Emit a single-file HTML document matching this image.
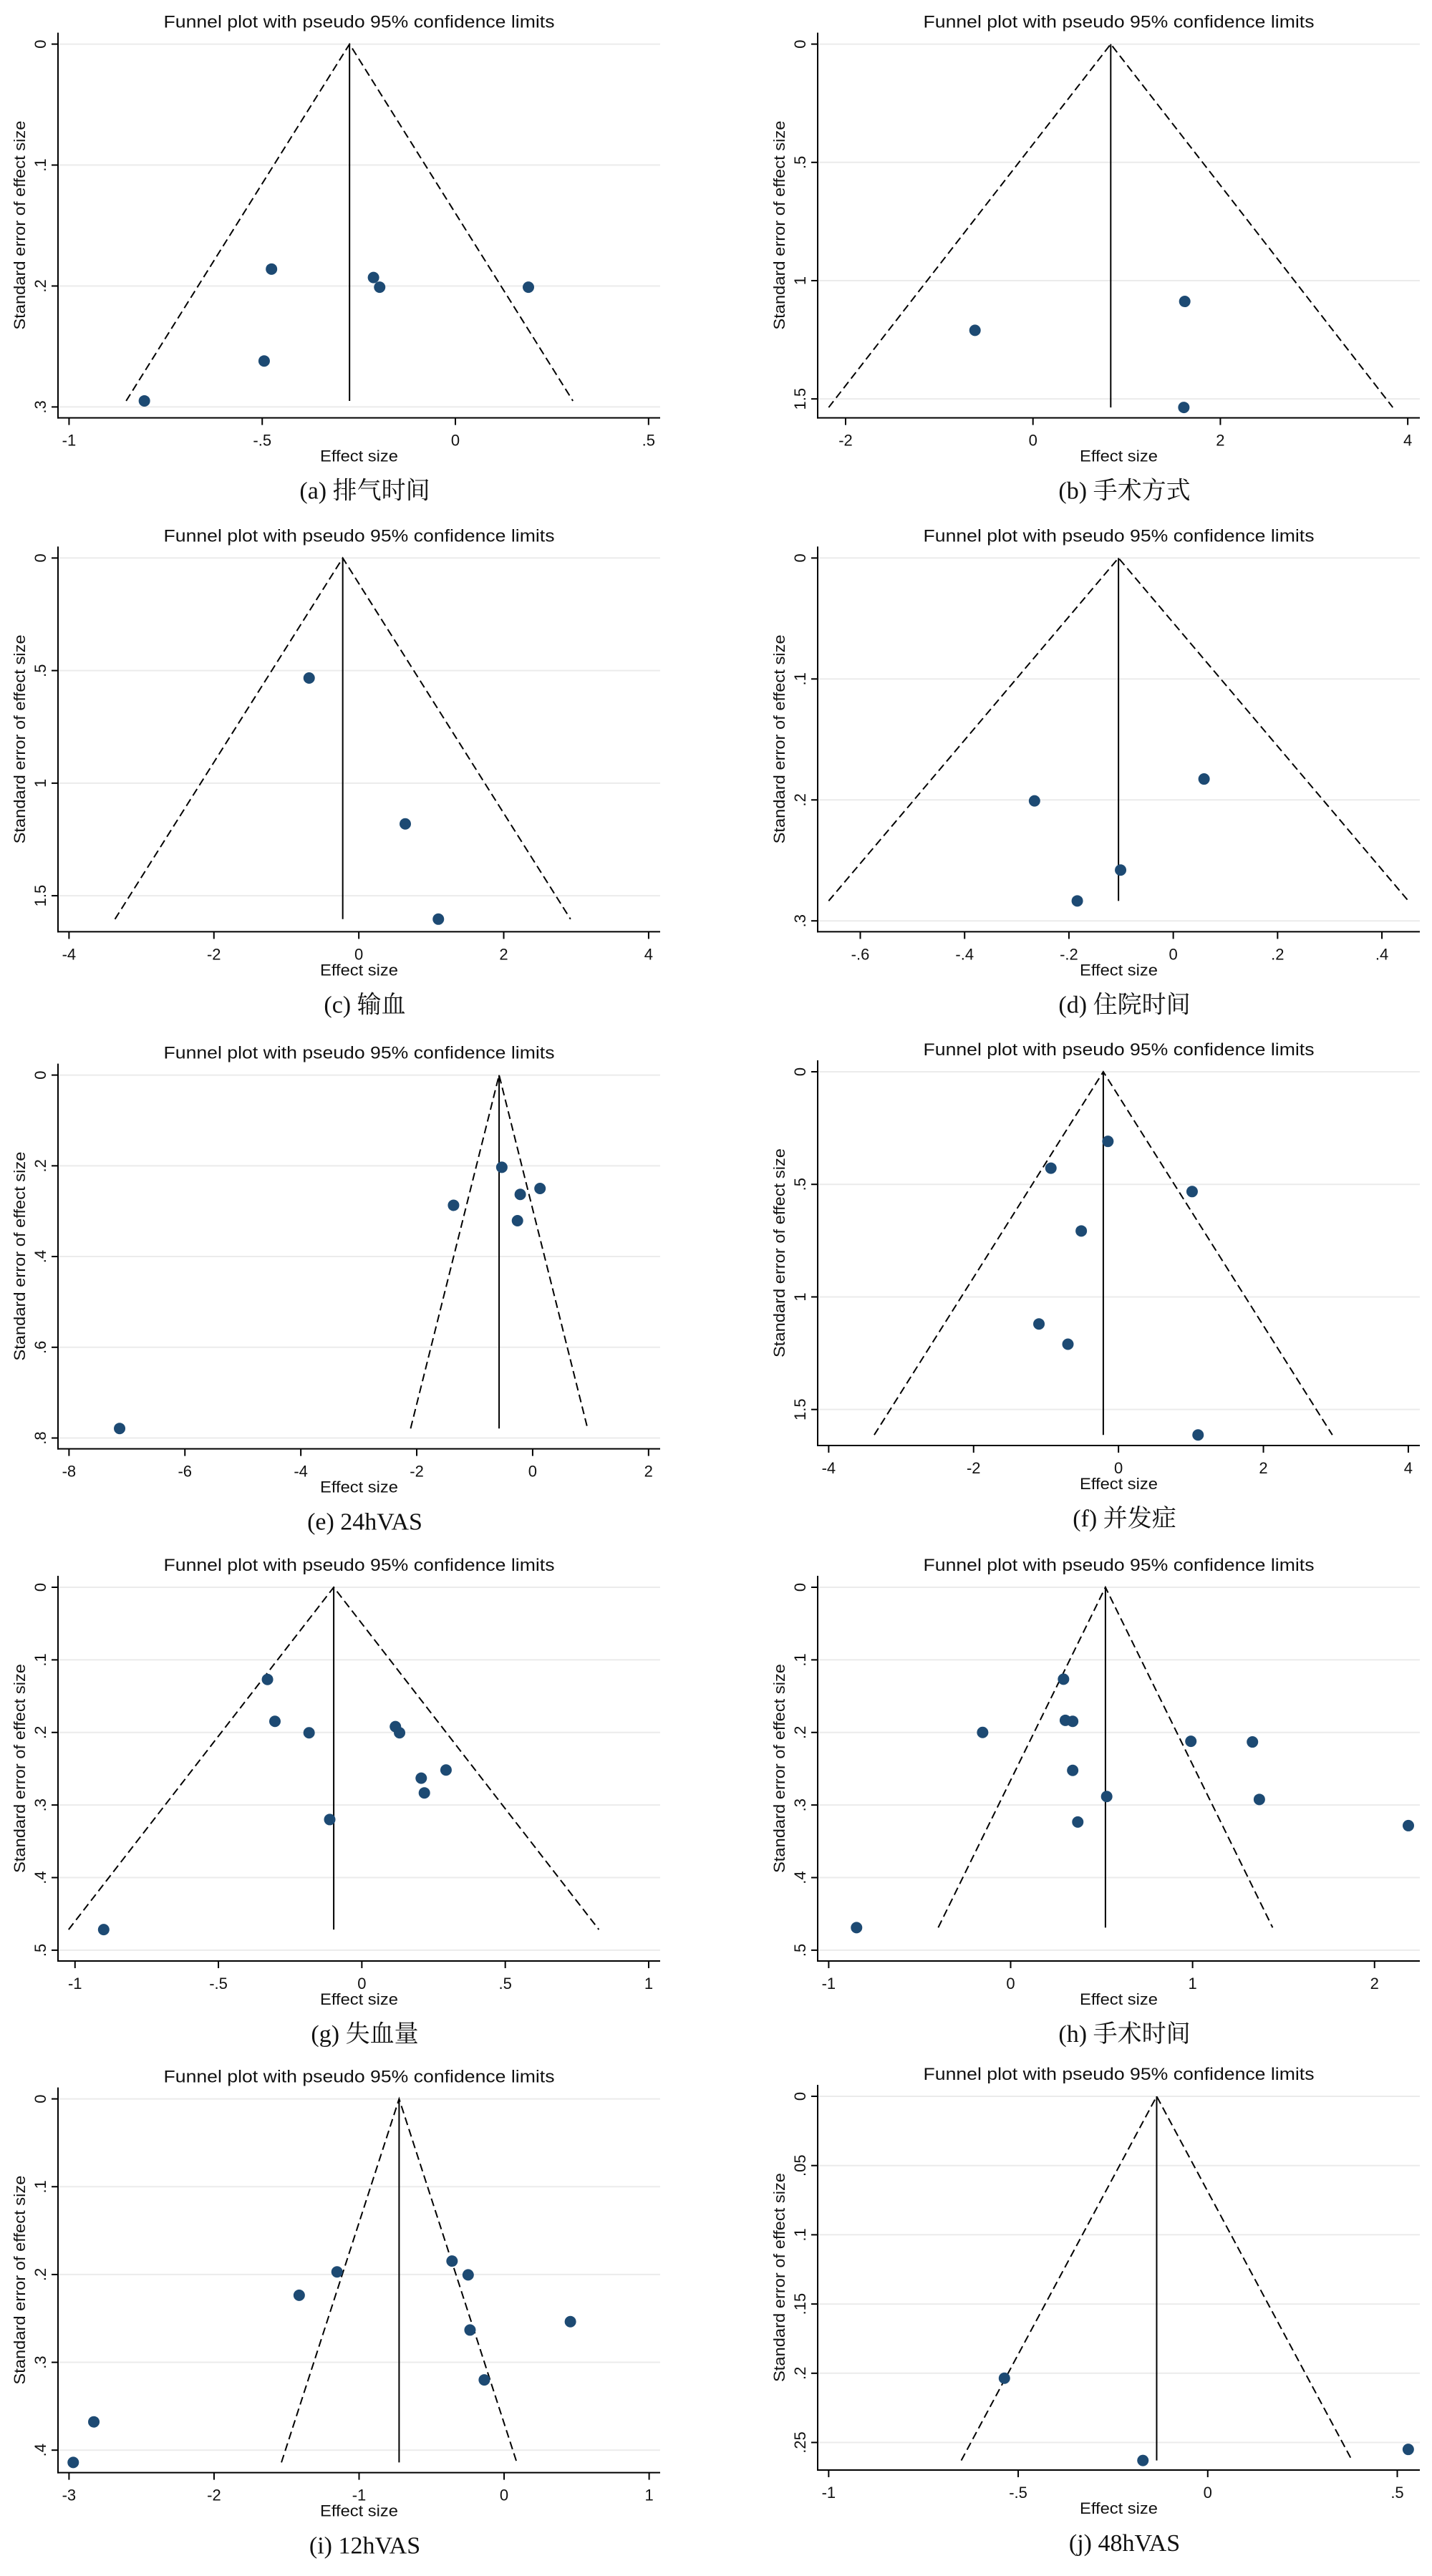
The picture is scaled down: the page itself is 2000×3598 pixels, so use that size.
<!DOCTYPE html>
<html><head><meta charset="utf-8"><style>
html,body{margin:0;padding:0;background:#fff}
svg{display:block}
</style></head><body>
<svg id="fig" xmlns="http://www.w3.org/2000/svg" width="2000" height="3598" viewBox="0 0 2000 3598"></svg>
<script>
// ---- data (effect size, standard error) per panel ----
const effA=[-0.476,-0.212,-0.196,0.189,-0.495,-0.805];
const seA=[0.186,0.193,0.201,0.201,0.262,0.295];
const pooledA=-0.274;
const effB=[-0.619,1.62,1.61];
const seB=[1.210,1.088,1.536];
const pooledB=0.83;
const effC=[-0.686,0.641,1.098];
const seC=[0.533,1.181,1.604];
const pooledC=-0.222;
const effD=[-0.266,0.059,-0.101,-0.184];
const seD=[0.2008,0.1827,0.258,0.2835];
const pooledD=-0.105;
const effE=[-7.127,-0.532,0.127,-0.214,-1.365,-0.262];
const seE=[0.779,0.2032,0.250,0.263,0.287,0.321];
const pooledE=-0.579;
const effF=[-0.146,-0.933,1.016,-0.514,-1.098,-0.698,1.098];
const seF=[0.309,0.428,0.532,0.707,1.120,1.210,1.613];
const pooledF=-0.21;
const effG=[-0.329,-0.303,-0.184,0.117,0.1315,0.2935,0.207,0.218,-0.112,-0.900];
const seG=[0.127,0.1847,0.2005,0.192,0.2005,0.2518,0.263,0.2833,0.320,0.4716];
const pooledG=-0.098;
const effH=[0.2906,0.3007,0.341,-0.154,0.9906,1.329,0.341,0.528,1.367,0.369,2.186,-0.847];
const seH=[0.1266,0.1833,0.1847,0.200,0.2122,0.2131,0.2523,0.2883,0.2923,0.3234,0.3284,0.4689];
const pooledH=0.521;
const effI=[-0.359,-0.248,-1.152,-1.413,0.457,-0.235,-0.1365,-2.829,-2.971];
const seI=[0.1847,0.2004,0.197,0.2236,0.2537,0.2632,0.320,0.3678,0.414];
const pooledI=-0.724;
const effJ=[-0.5364,-0.171,0.529];
const seJ=[0.2036,0.263,0.255];
const pooledJ=-0.1347;

// ---- tick values / labels ----
const xTicksA=[-1,-0.5,0,0.5]; const xLabA=["-1","-.5","0",".5"];
const yTicksA=[0,0.1,0.2,0.3]; const yLabA=["0",".1",".2",".3"];
const xTicksB=[-2,0,2,4]; const xLabB=["-2","0","2","4"];
const yTicksB=[0,0.5,1,1.5]; const yLabB=["0",".5","1","1.5"];
const xTicksC=[-4,-2,0,2,4]; const xLabC=["-4","-2","0","2","4"];
const yTicksC=[0,0.5,1,1.5]; const yLabC=["0",".5","1","1.5"];
const xTicksD=[-0.6,-0.4,-0.2,0,0.2,0.4]; const xLabD=["-.6","-.4","-.2","0",".2",".4"];
const yTicksD=[0,0.1,0.2,0.3]; const yLabD=["0",".1",".2",".3"];
const xTicksE=[-8,-6,-4,-2,0,2]; const xLabE=["-8","-6","-4","-2","0","2"];
const yTicksE=[0,0.2,0.4,0.6,0.8]; const yLabE=["0",".2",".4",".6",".8"];
const xTicksF=[-4,-2,0,2,4]; const xLabF=["-4","-2","0","2","4"];
const yTicksF=[0,0.5,1,1.5]; const yLabF=["0",".5","1","1.5"];
const xTicksG=[-1,-0.5,0,0.5,1]; const xLabG=["-1","-.5","0",".5","1"];
const yTicksG=[0,0.1,0.2,0.3,0.4,0.5]; const yLabG=["0",".1",".2",".3",".4",".5"];
const xTicksH=[-1,0,1,2]; const xLabH=["-1","0","1","2"];
const yTicksH=[0,0.1,0.2,0.3,0.4,0.5]; const yLabH=["0",".1",".2",".3",".4",".5"];
const xTicksI=[-3,-2,-1,0,1]; const xLabI=["-3","-2","-1","0","1"];
const yTicksI=[0,0.1,0.2,0.3,0.4]; const yLabI=["0",".1",".2",".3",".4"];
const xTicksJ=[-1,-0.5,0,0.5]; const xLabJ=["-1","-.5","0",".5"];
const yTicksJ=[0,0.05,0.1,0.15,0.2,0.25]; const yLabJ=["0",".05",".1",".15",".2",".25"];
const captions=["(a) 排气时间","(b) 手术方式","(c) 输血","(d) 住院时间","(e) 24hVAS","(f) 并发症","(g) 失血量","(h) 手术时间","(i) 12hVAS","(j) 48hVAS"];

const panels=[
 {id:"a",left:81,y0:61.6,xmin:-1.0286,xmax:0.53,ymax:0.309,eff:effA,se:seA,c:pooledA,xt:xTicksA,xl:xLabA,yt:yTicksA,yl:yLabA},
 {id:"b",left:1142,y0:61.6,xmin:-2.298,xmax:4.129,ymax:1.580,eff:effB,se:seB,c:pooledB,xt:xTicksB,xl:xLabB,yt:yTicksB,yl:yLabB},
 {id:"c",left:81,y0:779.4,xmin:-4.152,xmax:4.159,ymax:1.660,eff:effC,se:seC,c:pooledC,xt:xTicksC,xl:xLabC,yt:yTicksC,yl:yLabC},
 {id:"d",left:1142,y0:779.4,xmin:-0.6817,xmax:0.4727,ymax:0.309,eff:effD,se:seD,c:pooledD,xt:xTicksD,xl:xLabD,yt:yTicksD,yl:yLabD},
 {id:"e",left:81,y0:1501.6,xmin:-8.19,xmax:2.2,ymax:0.8238,eff:effE,se:seE,c:pooledE,xt:xTicksE,xl:xLabE,yt:yTicksE,yl:yLabE},
 {id:"f",left:1142,y0:1497,xmin:-4.152,xmax:4.159,ymax:1.660,eff:effF,se:seF,c:pooledF,xt:xTicksF,xl:xLabF,yt:yTicksF,yl:yLabF},
 {id:"g",left:81,y0:2217,xmin:-1.0593,xmax:1.040,ymax:0.5149,eff:effG,se:seG,c:pooledG,xt:xTicksG,xl:xLabG,yt:yTicksG,yl:yLabG},
 {id:"h",left:1142,y0:2217,xmin:-1.0606,xmax:2.249,ymax:0.5149,eff:effH,se:seH,c:pooledH,xt:xTicksH,xl:xLabH,yt:yTicksH,yl:yLabH},
 {id:"i",left:81,y0:2931.6,xmin:-3.076,xmax:1.076,ymax:0.4256,eff:effI,se:seI,c:pooledI,xt:xTicksI,xl:xLabI,yt:yTicksI,yl:yLabI},
 {id:"j",left:1142,y0:2928,xmin:-1.029,xmax:0.5595,ymax:0.2699,eff:effJ,se:seJ,c:pooledJ,xt:xTicksJ,xl:xLabJ,yt:yTicksJ,yl:yLabJ}
];

const NS="http://www.w3.org/2000/svg";
const svg=document.getElementById("fig");
const PW=841, PH=522;
const SANS='"Liberation Sans", Arial, sans-serif';
const SERIF='"Liberation Serif", "Noto Serif CJK SC", "Noto Sans CJK SC", serif';
function mk(parent,tag,attrs,text){
  const e=document.createElementNS(NS,tag);
  for(const k in attrs) e.setAttribute(k,attrs[k]);
  if(text!==undefined) e.textContent=text;
  parent.appendChild(e);
  return e;
}

panels.forEach((p,pi)=>{
  const g=mk(svg,"g",{});
  
  
  const xs=v=>p.left+(v-p.xmin)/(p.xmax-p.xmin)*PW;
  const ys=v=>p.y0+v/p.ymax*PH;
  const bottom=p.y0+PH, right=p.left+PW, mid=p.left+PW/2;

  // gridlines
  p.yt.forEach((v,i)=>{
    const l=mk(g,"line",{x1:p.left,x2:right,y1:ys(v),y2:ys(v),stroke:"#ebebeb","stroke-width":2});
    
    
  });
  // title
  const t=mk(g,"text",{x:mid,y:p.y0-23,"text-anchor":"middle","font-family":SANS,"font-size":24,textLength:546,lengthAdjust:"spacingAndGlyphs",fill:"#111"},"Funnel plot with pseudo 95% confidence limits");
  
  
  // axes
  const ya=mk(g,"line",{x1:p.left,x2:p.left,y1:p.y0-16,y2:bottom+1,stroke:"#000","stroke-width":2});
  
  
  const xa=mk(g,"line",{x1:p.left-1,x2:right,y1:bottom,y2:bottom,stroke:"#000","stroke-width":2});
  
  
  // y ticks
  p.yt.forEach((v,i)=>{
    const y=ys(v);
    const tk=mk(g,"line",{x1:p.left-9,x2:p.left,y1:y,y2:y,stroke:"#000","stroke-width":2});
    
    
    const lb=mk(g,"text",{x:p.left-17,y:y,"text-anchor":"middle","font-family":SANS,"font-size":22,fill:"#111",transform:`rotate(-90 ${p.left-17} ${y})`},p.yl[i]);
    
    
  });
  // x ticks
  p.xt.forEach((v,i)=>{
    const x=xs(v);
    const tk=mk(g,"line",{x1:x,x2:x,y1:bottom,y2:bottom+10,stroke:"#000","stroke-width":2});
    
    
    const lb=mk(g,"text",{x:x,y:p.y0+561,"text-anchor":"middle","font-family":SANS,"font-size":22,fill:"#111"},p.xl[i]);
    
    
  });
  // axis titles
  const xt=mk(g,"text",{x:mid,y:p.y0+583,"text-anchor":"middle","font-family":SANS,"font-size":22,textLength:109,lengthAdjust:"spacingAndGlyphs",fill:"#111"},"Effect size");
  
  
  const yx=p.left-46, yy=p.y0+253;
  const ytt=mk(g,"text",{x:yx,y:yy,"text-anchor":"middle","font-family":SANS,"font-size":22,textLength:292,lengthAdjust:"spacingAndGlyphs",fill:"#111",transform:`rotate(-90 ${yx} ${yy})`},"Standard error of effect size");
  
  
  // funnel
  const maxSe=Math.max(...p.se);
  const fl=mk(g,"polyline",{points:`${xs(p.c-1.96*maxSe)},${ys(maxSe)} ${xs(p.c)},${ys(0)} ${xs(p.c+1.96*maxSe)},${ys(maxSe)}`,fill:"none",stroke:"#000","stroke-width":2,"stroke-dasharray":"11 6"});
  
  
  const cl=mk(g,"line",{x1:xs(p.c),x2:xs(p.c),y1:ys(0),y2:ys(maxSe),stroke:"#000","stroke-width":2});
  
  
  // points
  p.eff.forEach((v,i)=>{
    const c=mk(g,"circle",{cx:xs(v),cy:ys(p.se[i]),r:8,fill:"#1d4a73"});
    
    
  });
  // caption
  const cap=mk(g,"text",{x:mid+8,y:p.y0+635,"text-anchor":"middle","font-family":SERIF,"font-size":34,fill:"#111"},captions[pi]);
  
  
});
</script>
</body></html>
